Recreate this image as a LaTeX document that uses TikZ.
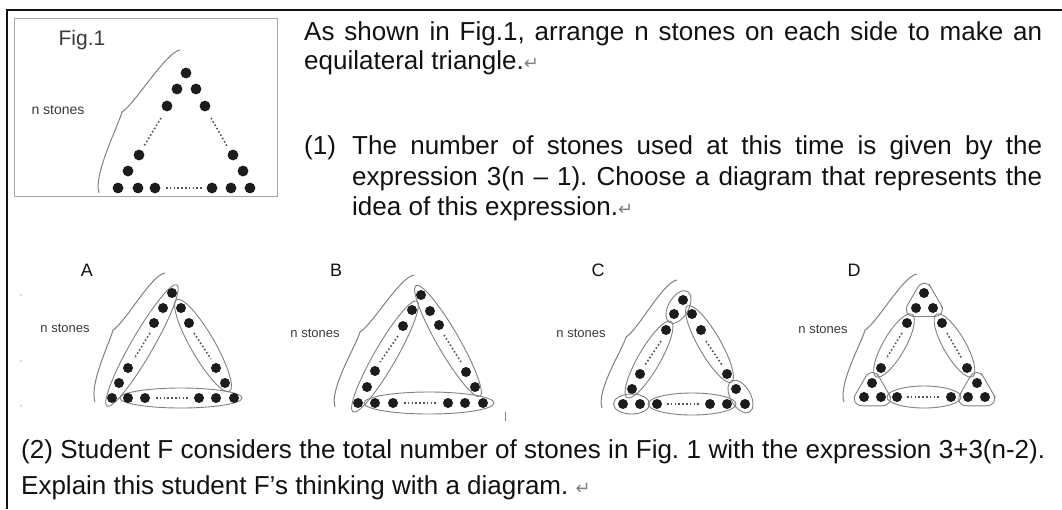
\documentclass[tikz,border=0pt]{standalone}
\usepackage{fontspec}
\setmainfont{Liberation Sans}
\newfontfamily\djv{DejaVu Sans}
\frenchspacing
\definecolor{stonecol}{HTML}{1C1C1C}
\definecolor{ringcol}{HTML}{808080}
\definecolor{dotcol}{HTML}{555555}
\definecolor{textcol}{HTML}{111111}
\definecolor{labcol}{HTML}{3A3A3A}
\newcommand\stones[2][5pt]{\foreach \p in {#2} {\fill[stonecol] \p circle[radius=#1];}}
\newcommand\ring[5]{\draw[groupring, rotate around={#4:(#1,#2)}] (#1,#2) ellipse [x radius=#3pt, y radius=#5pt];}
\newcommand\trio[2]{\draw[groupring, rounded corners=14pt, shift={(#1,#2)}] (11.7,-6.75) -- (23.4,13.5) -- (-23.4,13.5) -- (0,-27) -- cycle;}
\newcommand\curly[6]{\draw[bracestyle] (#1,#2) .. controls +(-14,2) and +(12,-7) .. (#3,#4) .. controls +(-3,12) and +(-6,-18) .. (#5,#6);}
\newcommand\retmark{{\djv\fontsize{18}{18}\selectfont\color{gray}\char"21B5}}
\begin{document}
\begin{tikzpicture}[x=1pt,y=-1pt,
  groupring/.style={draw=ringcol, line width=0.9pt},
  bracestyle/.style={draw=ringcol, line width=1pt},
  dotline/.style={draw=dotcol, line width=1.6pt, dash pattern=on 1.6pt off 2.2pt},
  maintext/.style={anchor=base west, inner sep=0pt, font=\fontsize{26}{30}\selectfont, text=textcol},
  smalllab/.style={inner sep=0pt, font=\fontsize{13}{13}\selectfont, text=labcol},
  panellab/.style={inner sep=0pt, font=\fontsize{18}{18}\selectfont, text=textcol}]
\useasboundingbox (0,0) rectangle (1062,509);
% outer frame
\draw[line width=1.3pt, draw=textcol] (1062,10) -- (7,10) -- (7,509);
% ---------- Fig.1 ----------
\draw[draw=gray!70, line width=1pt] (14,18) rectangle (277,196);
\node[inner sep=0pt, font=\fontsize{21}{21}\selectfont, text=labcol] (figlab) at (82,40) {Fig.1};
\node[smalllab, font=\fontsize{14}{14}\selectfont] (fign) at (58,110) {n stones};
\curly{180}{50}{122}{112}{99}{193}
\stones[5.4pt]{(186,73),(177,89),(167,106),(139,155),(128,171),(118,188),(196,89),(205,106),(233,155),(243,171),(250,188),(138,188),(155,188),(212,188),(231,188)}
\draw[dotline] (161,118) -- (144,146);
\draw[dotline] (211,118) -- (227,146);
\draw[dotline] (166,188) -- (203,188);
% ---------- text ----------
\node[maintext] (t1) at (304,40) {\makebox[738pt][s]{As shown in Fig.1, arrange n stones on each side to make an}};
\node[maintext] (t2) at (304,69) {equilateral triangle.\retmark};
\node[maintext] (p1a) at (304,154) {(1)};
\node[maintext] (p1b) at (352,154) {\makebox[690pt][s]{The number of stones used at this time is given by the}};
\node[maintext] (p2) at (352,185) {\makebox[690pt][s]{expression 3(n – 1). Choose a diagram that represents the}};
\node[maintext] (p3) at (352,215) {idea of this expression.\retmark};
\node[maintext] (q1) at (21,458) {\makebox[1024pt][s]{(2) Student F considers the total number of stones in Fig. 1 with the expression 3+3(n-2).}};
\node[maintext] (q2) at (21,494) {Explain this student F's thinking with a diagram. \retmark};
% ---------- stray marks ----------
\foreach \yy in {295,361,406} {\fill[gray!60] (21,\yy) circle[radius=0.8pt];}
\draw[gray, line width=0.8pt] (505,412) -- (505,421);
% ---------- Panel A ----------
\node[panellab] (la) at (87,270) {A};
\node[smalllab] (na) at (65,328) {n stones};
\curly{165}{273}{113}{330}{95}{402}
\ring{142}{345.5}{70}{60}{11}
\ring{203}{345.5}{53}{120}{12}
\ring{181}{398}{61}{0}{10}
\stones{(172,293),(163,308),(154,323),(128,368),(119,383),(112,398),(181,308),(189,323),(216,368),(225,383),(128,398),(145,398),(199,398),(216,398),(234,398)}
\draw[dotline] (150,333) -- (134,359);
\draw[dotline] (194,333) -- (211,359);
\draw[dotline] (156,398) -- (190,398);
% ---------- Panel B ----------
\node[panellab] (lb) at (336,270) {B};
\node[smalllab] (nb) at (315,333) {n stones};
\curly{414}{275}{360}{332}{335}{407}
\ring{385}{356.5}{64}{60}{11}
\ring{448}{341}{64}{120}{11}
\ring{429}{403}{65}{0}{11}
\stones{(421,295),(430,311),(439,325),(466,372),(475,387),(412,310),(403,326),(375,371),(367,387),(358,403),(375,403),(393,403),(448,403),(465,403),(483,403)}
\draw[dotline] (398,336) -- (380,362);
\draw[dotline] (444,335) -- (461,362);
\draw[dotline] (404,403) -- (438,403);
% ---------- Panel C ----------
\node[panellab] (lc) at (598,270) {C};
\node[smalllab] (nc) at (581,333) {n stones};
\curly{677}{280}{626}{337}{602}{408}
\ring{678.5}{307}{18}{60}{10}
\ring{709.5}{344}{44}{120}{11}
\ring{740.5}{396.5}{18}{120}{10}
\ring{692}{404}{44}{0}{11}
\ring{631.5}{404}{18}{0}{10}
\ring{649}{359.5}{44}{60}{11}
\stones{(683,300),(674,314),(692,314),(666,330),(640,374),(632,389),(623,404),(701,330),(727,374),(736,389),(745,404),(640,404),(657,404),(710,404),(727,404)}
\draw[dotline] (661,341) -- (645,365);
\draw[dotline] (706,341) -- (722,365);
\draw[dotline] (667,404) -- (700,404);
% ---------- Panel D ----------
\node[panellab] (ld) at (854,270) {D};
\node[smalllab] (nd) at (823,329) {n stones};
\curly{917}{274}{865}{330}{844}{402}
\trio{924.3}{303}
\trio{872.3}{392.3}
\trio{976.7}{392.3}
\ring{894}{345.5}{36}{60}{11}
\ring{954.5}{345.5}{36}{120}{11}
\ring{924}{397}{37}{0}{11}
\stones{(924,293),(916,308),(933,308),(907,323),(881,368),(872,383),(864,397),(881,397),(942,323),(967,368),(977,383),(968,397),(985,397),(897,397),(951,397)}
\draw[dotline] (902,333) -- (886,359);
\draw[dotline] (947,333) -- (962,359);
\draw[dotline] (907,397) -- (941,397);
\end{tikzpicture}
\end{document}
